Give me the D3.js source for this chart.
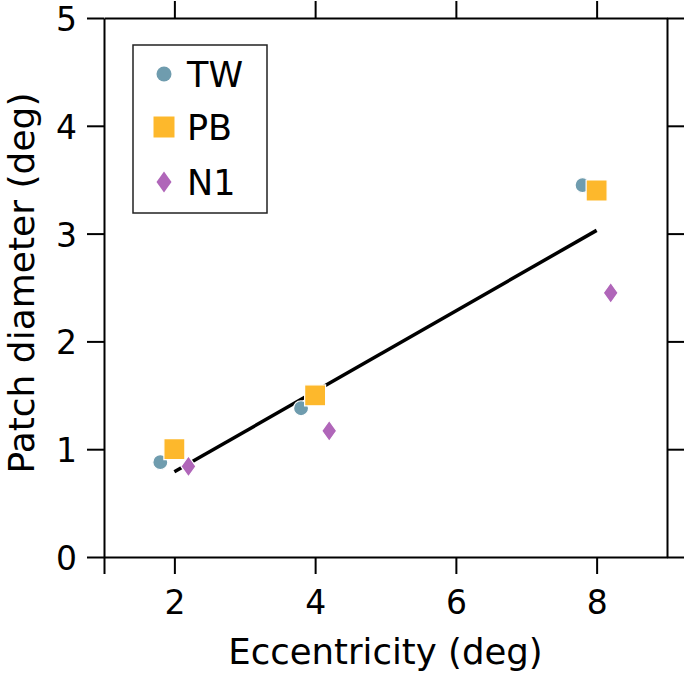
<!DOCTYPE html>
<html><head><meta charset="utf-8">
<script src="https://cdn.jsdelivr.net/npm/d3@7"></script>
<style>body{margin:0;background:#fff}svg{display:block}text{font-family:"DejaVu Sans",sans-serif;fill:#000}</style>
</head><body>
<script>
const series = ["TW", "PB", "N1"];
const twX = [1.8, 3.8, 7.8];
const twY = [0.88, 1.38, 3.45];
const pbX = [2.0, 4.0, 8.0];
const pbY = [1.0, 1.5, 3.4];
const n1X = [2.2, 4.2, 8.2];
const n1Y = [0.84, 1.17, 2.45];
const fitX = [2, 8];
const fitY = [0.79, 3.03];
const xTicks = [1, 2, 4, 6, 8];
const xTopTicks = [2, 4, 6, 8];
const yTicks = [0, 1, 2, 3, 4, 5];
const colors = {TW: "#6f9cae", PB: "#fdb82c", N1: "#b066b9"};

const W = 686, H = 675;
const L = 104, R = 667, T = 18, B = 557;
const svg = d3.select("body").append("svg").attr("width", W).attr("height", H);
const x = d3.scaleLinear().domain([1, 9]).range([L, R]);
const y = d3.scaleLinear().domain([0, 5]).range([B, T]);

function styleAxis(g){
  g.selectAll("path.domain").attr("stroke", "#000").attr("stroke-width", 2);
  g.selectAll(".tick line").attr("stroke", "#000").attr("stroke-width", 2);
  g.selectAll("text").attr("font-size", 33).attr("font-family", "DejaVu Sans").attr("fill", "#000");
}
svg.append("g").attr("transform", `translate(0,${B})`)
  .call(d3.axisBottom(x).tickValues(xTicks).tickFormat(d => d === 1 ? "" : d).tickSize(17).tickSizeOuter(0).tickPadding(17))
  .call(styleAxis);
svg.append("g").attr("transform", `translate(0,${T})`)
  .call(d3.axisTop(x).tickValues(xTopTicks).tickFormat("").tickSize(17).tickSizeOuter(0))
  .call(styleAxis);
svg.append("g").attr("transform", `translate(${L},0)`)
  .call(d3.axisLeft(y).tickValues(yTicks).tickFormat(d3.format("d")).tickSize(17).tickSizeOuter(0).tickPadding(10))
  .call(styleAxis)
  .call(g => g.selectAll(".tick text").attr("dy", "0.38em"));
svg.append("g").attr("transform", `translate(${R},0)`)
  .call(d3.axisRight(y).tickValues(yTicks).tickFormat("").tickSize(17).tickSizeOuter(0))
  .call(styleAxis);

// fit line
svg.append("path")
  .attr("d", d3.line().x(d => x(d[0])).y(d => y(d[1]))(d3.zip(fitX, fitY)))
  .attr("stroke", "#000").attr("stroke-width", 3.5).attr("fill", "none");

const sym = {
  TW: d3.symbol().type(d3.symbolCircle).size(Math.PI * 7.5 * 7.5),
  PB: d3.symbol().type(d3.symbolSquare).size(21 * 21),
  N1: null
};
function diamondPath(w, h){ return `M0,${-h/2}L${w/2},0L0,${h/2}L${-w/2},0Z`; }
function markerPath(s){ return s === "N1" ? diamondPath(15, 21) : sym[s](); }

const data = {TW: d3.zip(twX, twY), PB: d3.zip(pbX, pbY), N1: d3.zip(n1X, n1Y)};
series.forEach(s => {
  svg.append("g").selectAll("path").data(data[s]).join("path")
    .attr("d", markerPath(s))
    .attr("transform", d => `translate(${x(d[0])},${y(d[1])})`)
    .attr("fill", colors[s]).attr("stroke", "#fff").attr("stroke-width", 1.2);
});

// axis labels
svg.append("text").attr("x", (L + R) / 2).attr("y", 664).attr("text-anchor", "middle")
  .attr("font-size", 35.5).text("Eccentricity (deg)");
svg.append("text").attr("transform", `translate(34,283) rotate(-90)`).attr("text-anchor", "middle")
  .attr("font-size", 36).text("Patch diameter (deg)");

// legend
const lg = svg.append("g");
lg.append("rect").attr("x", 133).attr("y", 45).attr("width", 134).attr("height", 168)
  .attr("fill", "#fff").attr("stroke", "#222").attr("stroke-width", 1.5);
const legY = [74, 127, 182];
series.forEach((s, i) => {
  lg.append("path").attr("d", markerPath(s)).attr("transform", `translate(164,${legY[i]})`)
    .attr("fill", colors[s]);
  lg.append("text").attr("x", 187).attr("y", legY[i] + 13).attr("font-size", 35).text(s);
});
</script>
</body></html>
